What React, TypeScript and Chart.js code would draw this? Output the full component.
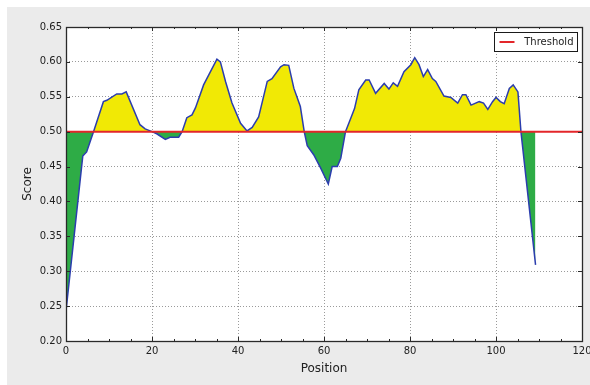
import React, { useEffect, useRef } from 'react';
import { Chart, registerables } from 'chart.js';

Chart.register(...registerables);

// ---- data ----
const positions = [
  0, 3.9, 4.8, 6.4, 8.7, 9.5, 11.8, 13.0, 14.0, 17.2, 18.4, 20.0, 21.1, 23.1, 24.2, 26.2, 27.0,
  28.1, 29.3, 30.1, 32.0, 35.1, 35.9, 37.1, 38.6, 40.6, 42.1, 43.3, 44.8, 46.8, 47.9, 49.9, 50.7,
  51.8, 53.0, 54.5, 55.4, 56.1, 57.6, 59.2, 61.0, 61.9, 63.1, 63.9, 65.0, 66.2, 67.1, 68.1, 69.7,
  70.5, 72.0, 74.0, 75.1, 76.1, 77.1, 78.6, 80.2, 81.1, 82.1, 83.1, 84.1, 85.2, 86.0, 87.9, 89.5,
  91.1, 92.2, 93.0, 94.2, 96.1, 97.1, 98.1, 99.2, 100.0, 101.0, 101.9, 103.1, 104.0, 105.1, 105.8,
  109.2,
];
const scores = [
  0.243, 0.465, 0.471, 0.5, 0.543, 0.545, 0.554, 0.554, 0.557, 0.51, 0.504, 0.5, 0.497, 0.489,
  0.492, 0.492, 0.5, 0.52, 0.524, 0.534, 0.567, 0.604, 0.6, 0.572, 0.541, 0.512, 0.501, 0.506,
  0.521, 0.572, 0.576, 0.593, 0.596, 0.595, 0.562, 0.536, 0.5, 0.48, 0.467, 0.448, 0.425, 0.45,
  0.45, 0.462, 0.5, 0.519, 0.533, 0.56, 0.574, 0.574, 0.555, 0.569, 0.561, 0.57, 0.565, 0.586,
  0.596, 0.606, 0.596, 0.579, 0.589, 0.576, 0.572, 0.551, 0.549, 0.541, 0.553, 0.553, 0.538,
  0.543, 0.541, 0.532, 0.543, 0.549, 0.543, 0.54, 0.562, 0.567, 0.557, 0.5, 0.309,
];
const threshold = 0.5;
const thresholdLabel = 'Threshold';
const xLabel = 'Position';
const yLabel = 'Score';
const xTicks = [0, 20, 40, 60, 80, 100, 120];
const xMinorTicks = [5, 10, 15, 25, 30, 35, 45, 50, 55, 65, 70, 75, 85, 90, 95, 105, 110, 115];
const yTicks = [0.2, 0.25, 0.3, 0.35, 0.4, 0.45, 0.5, 0.55, 0.6, 0.65];

const FONT = "'DejaVu Sans', sans-serif";

export default function App() {
  const ref = useRef<HTMLCanvasElement>(null);

  useEffect(() => {
    if (!ref.current) return;

    const framePlugin = {
      id: 'frame',
      beforeDraw(chart: any) {
        const { ctx, chartArea } = chart;
        ctx.save();
        ctx.fillStyle = '#ffffff';
        ctx.fillRect(chartArea.left, chartArea.top, chartArea.right - chartArea.left, chartArea.bottom - chartArea.top);
        ctx.restore();
      },
      afterDraw(chart: any) {
        const { ctx, chartArea } = chart;
        const { left, right, top, bottom } = chartArea;
        const xs = chart.scales.x;
        const ys = chart.scales.y;
        ctx.save();
        ctx.strokeStyle = '#2a2a2a';
        ctx.lineWidth = 1;
        ctx.beginPath();
        const al = (v: number) => Math.round(v) + 0.5;
        xTicks.forEach((v) => {
          const p = al(xs.getPixelForValue(v));
          ctx.moveTo(p, bottom); ctx.lineTo(p, bottom - 4);
          ctx.moveTo(p, top); ctx.lineTo(p, top + 4);
        });
        xMinorTicks.forEach((v) => {
          const p = al(xs.getPixelForValue(v));
          ctx.moveTo(p, bottom); ctx.lineTo(p, bottom - 2);
          ctx.moveTo(p, top); ctx.lineTo(p, top + 2);
        });
        yTicks.forEach((v) => {
          const p = al(ys.getPixelForValue(v));
          ctx.moveTo(left, p); ctx.lineTo(left + 4, p);
          ctx.moveTo(right, p); ctx.lineTo(right - 4, p);
        });
        ctx.stroke();
        ctx.lineWidth = 1.3;
        ctx.strokeRect(al(left), al(top), Math.round(right - left), Math.round(bottom - top));

        // legend box
        const bw = 83, bh = 19;
        const bx = Math.round(right) - 5 - bw + 0.5;
        const by = Math.round(top) + 5 + 0.5;
        ctx.fillStyle = '#ffffff';
        ctx.fillRect(bx, by, bw, bh);
        ctx.strokeStyle = '#1a1a1a';
        ctx.lineWidth = 1;
        ctx.strokeRect(bx, by, bw, bh);
        ctx.strokeStyle = '#e3262a';
        ctx.lineWidth = 2;
        ctx.beginPath();
        ctx.moveTo(bx + 5, by + bh / 2);
        ctx.lineTo(bx + 20, by + bh / 2);
        ctx.stroke();
        ctx.fillStyle = '#222';
        ctx.font = `10px ${FONT}`;
        ctx.textAlign = 'right';
        ctx.textBaseline = 'middle';
        ctx.fillText(thresholdLabel, bx + bw - 4, by + bh / 2 + 0.5);
        ctx.restore();
      },
    };

    const chart = new Chart(ref.current, {
      type: 'line',
      data: {
        datasets: [
          {
            label: thresholdLabel,
            data: [
              { x: xTicks[0], y: threshold },
              { x: xTicks[xTicks.length - 1], y: threshold },
            ],
            borderColor: '#e3262a',
            borderWidth: 2,
            pointRadius: 0,
            fill: false,
          },
          {
            label: yLabel,
            data: positions.map((x, i) => ({ x, y: scores[i] })),
            borderColor: '#2b3dae',
            borderWidth: 1.5,
            pointRadius: 0,
            tension: 0,
            fill: {
              target: { value: threshold },
              above: '#f1e905',
              below: '#2eac46',
            },
          },
        ],
      },
      options: {
        animation: false,
        responsive: false,
        maintainAspectRatio: false,
        layout: { padding: { left: 0, top: 20, right: 8, bottom: 0 } },
        plugins: {
          legend: { display: false },
          tooltip: { enabled: false },
        },
        scales: {
          x: {
            type: 'linear',
            min: 0,
            max: 120,
            afterBuildTicks: (s: any) => {
              s.ticks = xTicks.map((v) => ({ value: v }));
            },
            afterFit: (s: any) => {
              s.height = 44;
              s.paddingLeft = 0;
              s.paddingRight = 0;
            },
            ticks: {
              color: '#222',
              font: { family: FONT, size: 10 },
              padding: 4,
              maxRotation: 0,
              callback: (v: any) => String(v),
            },
            grid: { color: '#9a9a9a', lineWidth: 1, drawTicks: false },
            border: { display: false, dash: [1, 2] },
            title: {
              display: true,
              text: xLabel,
              color: '#222',
              font: { family: FONT, size: 12 },
              padding: { top: 0, bottom: 9 },
            },
          },
          y: {
            type: 'linear',
            min: 0.2,
            max: 0.65,
            afterBuildTicks: (s: any) => {
              s.ticks = yTicks.map((v) => ({ value: v }));
            },
            afterFit: (s: any) => {
              s.width = 59;
              s.paddingTop = 0;
              s.paddingBottom = 0;
            },
            ticks: {
              color: '#222',
              font: { family: FONT, size: 10 },
              padding: 4,
              callback: (v: any) => Number(v).toFixed(2),
            },
            grid: { color: '#9a9a9a', lineWidth: 1, drawTicks: false },
            border: { display: false, dash: [1, 2] },
            title: {
              display: true,
              text: yLabel,
              color: '#222',
              font: { family: FONT, size: 12 },
              padding: { top: 14, bottom: 0 },
            },
          },
        },
      },
      plugins: [framePlugin],
    });

    return () => chart.destroy();
  }, []);

  return (
    <div
      style={{
        position: 'fixed',
        left: 7,
        top: 7,
        width: 583,
        height: 378,
        background: '#ebebeb',
      }}
    >
      <canvas ref={ref} width={583} height={378} style={{ display: 'block' }} />
    </div>
  );
}
